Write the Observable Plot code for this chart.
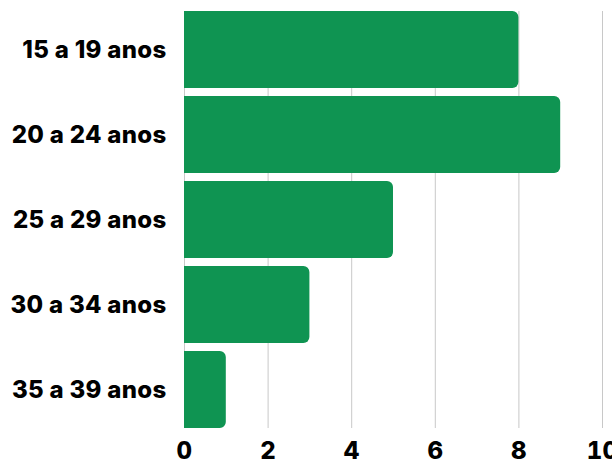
<!DOCTYPE html>
<html><head><meta charset="utf-8">
<script src="https://cdn.jsdelivr.net/npm/d3@7"></script>
<script src="https://cdn.jsdelivr.net/npm/@observablehq/plot@0.6"></script>
<style>body{margin:0;background:#fff}</style>
</head><body><div id="chart"></div>
<script>
const categories = ["15 a 19 anos","20 a 24 anos","25 a 29 anos","30 a 34 anos","35 a 39 anos"];
const values = [8, 9, 5, 3, 1];
const xTicks = [0, 2, 4, 6, 8, 10];
const data = categories.map((c, i) => ({c, v: values[i]}));
const chart = Plot.plot({
  width: 612, height: 465,
  marginLeft: 184, marginRight: 10, marginTop: 11, marginBottom: 37,
  style: {fontFamily: "Inter, sans-serif", fontWeight: 800, fontSize: "24px", letterSpacing: "0.3px", color: "#000", background: "#fff"},
  x: {domain: [0, 10], ticks: xTicks, label: null},
  y: {domain: categories, paddingInner: 0.1, paddingOuter: 0, label: null},
  marks: [
    Plot.gridX(xTicks, {stroke: "#c8c8c8", strokeOpacity: 1}),
    Plot.barX(data, {x: "v", y: "c", fill: "#0f9452", rx2y1: 6, rx2y2: 6}),
    Plot.axisX({ticks: xTicks, tickSize: 0, tickPadding: 13, label: null}),
    Plot.axisY({tickSize: 0, tickPadding: 18, label: null})
  ]
});
document.getElementById("chart").appendChild(chart);
</script></body></html>
